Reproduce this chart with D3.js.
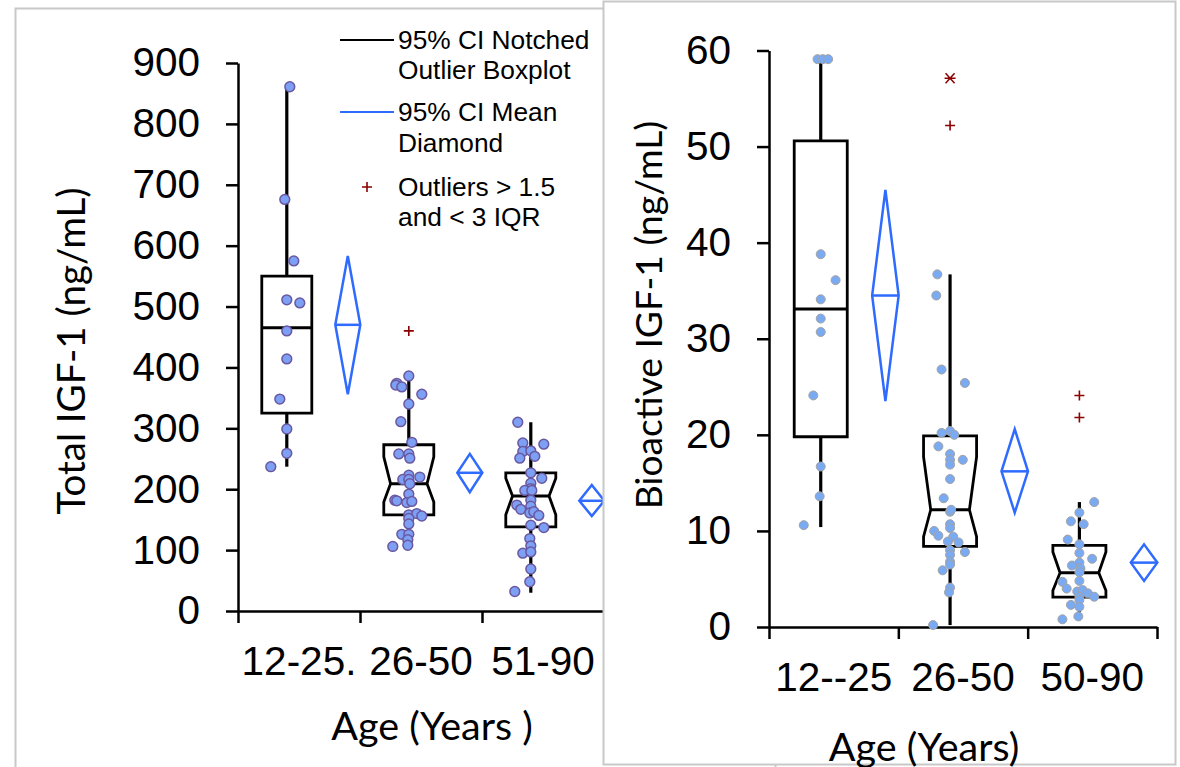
<!DOCTYPE html>
<html>
<head>
<meta charset="utf-8">
<script src="https://cdn.jsdelivr.net/npm/d3@7"></script>
<style>
  html, body { margin: 0; padding: 0; background: #fff; }
  svg { display: block; }
</style>
</head>
<body>
<svg id="chart" width="1180" height="767"></svg>
<script>
// ---------------- DATA ----------------
// Left panel: Total IGF-1 (ng/mL)
const totalCategories = ["12-25.", "26-50", "51-90"];
const totalTicks = [0, 100, 200, 300, 400, 500, 600, 700, 800, 900];
const totalQ1 = [325, 158, 138];
const totalMedian = [465, 209, 189];
const totalQ3 = [550, 273, 227];
const totalWhiskerLo = [237, 106, 30];
const totalWhiskerHi = [861, 386, 310];
const totalNotchLo = [null, 179, 158];
const totalNotchHi = [null, 253, 218];
const totalMean = [470, 227, 181];
const totalMeanLo = [356, 195, 156];
const totalMeanHi = [583, 258, 207];
const totalOutliers = [[], [460], []];
const totalExtreme = [[], [], []];
const totalPoints = [
  [861, 676, 575, 511, 506, 460, 414, 348, 299, 259, 237],
  [386, 374, 371, 368, 356, 340, 311, 277, 258, 258, 251, 223, 220, 216, 216, 209, 192, 182, 181, 178, 180, 158, 160, 156, 152, 143, 126, 126, 117, 108, 106],
  [310, 276, 274, 262, 263, 254, 251, 227, 218, 210, 201, 198, 198, 182, 174, 167, 172, 161, 163, 157, 141, 137, 119, 107, 95, 97, 69, 48, 32]
];
// horizontal jitter of each point (in 1/50 of box width)
const totalJitter = [
  [3, -2, 7, 0, 13, 0, 0, -7, 0, 0, -16],
  [0, -12, -13, -7, 13, 0, -8, 3, -10, 0, 1, 0, 11, -6, 0, 1, 0, -14, -12, -2, 3, 0, 8, 13, 0, 0, -7, 0, -1, -1, -16],
  [-13, -8, 13, -8, 0, 4, -11, 0, 11, 0, 0, -6, 1, 0, -14, -10, 0, -1, 3, 8, 0, 13, -1, 0, -8, 0, 0, -1, -16]
];

// Right panel: Bioactive IGF-1 (ng/mL)
const bioCategories = ["12--25", "26-50", "50-90"];
const bioTicks = [0, 10, 20, 30, 40, 50, 60];
const bioQ1 = [19.8, 8.4, 3.1];
const bioMedian = [33.1, 12.2, 5.65];
const bioQ3 = [50.6, 19.9, 8.5];
const bioWhiskerLo = [10.4, 0.2, 0.8];
const bioWhiskerHi = [59.1, 36.7, 13.0];
const bioNotchLo = [null, 9.4, 3.8];
const bioNotchHi = [null, 17.7, 7.8];
const bioMean = [34.5, 16.2, 6.7];
const bioMeanLo = [23.5, 11.9, 4.8];
const bioMeanHi = [45.5, 20.6, 8.6];
const bioOutliers = [[], [52.2], [24.1, 21.8]];
const bioExtreme = [[], [57.1], []];
const bioPoints = [
  [59.1, 59.1, 59.1, 38.8, 36.1, 34.1, 32.1, 30.7, 24.1, 16.7, 13.6, 10.6],
  [36.7, 34.5, 26.8, 25.4, 20.2, 20.4, 20.0, 18.8, 18.0, 17.4, 16.9, 17.4, 15.4, 13.4, 12.0, 12.2, 10.7, 10.3, 10.0, 9.5, 9.4, 8.9, 8.8, 8.0, 7.8, 7.5, 6.8, 6.5, 5.9, 4.1, 3.6, 0.2],
  [13.0, 11.9, 11.0, 10.7, 9.1, 8.6, 7.7, 7.1, 6.7, 6.4, 6.1, 5.7, 4.7, 4.8, 4.0, 3.7, 3.85, 3.5, 3.15, 3.15, 2.8, 2.3, 2.1, 1.1, 0.8]
];
const bioJitter = [
  [-3, 2, 7, 0, 14, 0, 0, 0, -7, 0, -1, -16],
  [-12, -13, -8, 14, -8, 0, 4, -11, 0, 0, 0, 12, 0, -6, 0, 1, 0, 0, -15, -11, 3, -2, 8, 0, 14, 0, 0, 0, -7, 0, -1, -16],
  [14, 0, -8, 4, -11, 0, 0, 12, 0, -7, 1, 0, -16, 0, -12, -2, 3, 8, 14, 0, 0, -8, 0, -1, -16]
];

// ---------------- DRAW ----------------
const svg = d3.select("#chart");
const BLACK = "#000";
const BLUE = "#2f6bff";
const RED = "#8b0000";
const TICKFONT = "Liberation Sans, Arial, sans-serif";
const TITLEFONT = "Lato, Open Sans, sans-serif";

function boxPanel(g, cfg) {
  const x = d3.scaleBand().domain(cfg.categories).range([cfg.x0, cfg.x1]).paddingInner(0).paddingOuter(0);
  const y = d3.scaleLinear().domain([0, cfg.ymax]).range([cfg.y0, cfg.y1]);
  const bw = x.bandwidth();
  const boxW = bw * 0.41;
  const diaW = bw * 0.205;

  // y axis
  const yAx = g.append("g").attr("transform", `translate(${cfg.x0},0)`)
    .call(d3.axisLeft(y).tickValues(cfg.ticks).tickSize(12).tickSizeOuter(0).tickPadding(26));
  yAx.select(".domain").attr("stroke-width", 2.5);
  yAx.selectAll(".tick line").attr("stroke-width", 2.5);
  yAx.selectAll("text").attr("font-family", TICKFONT).attr("font-size", 40.5).attr("fill", "#000");

  // x axis with boundary ticks
  const xl = d3.scaleLinear().domain([0, cfg.categories.length]).range([cfg.x0, cfg.x1]);
  const xAx = g.append("g").attr("transform", `translate(0,${cfg.y0})`)
    .call(d3.axisBottom(xl).tickValues(d3.range(cfg.categories.length + 1)).tickFormat("").tickSize(12).tickSizeOuter(0));
  xAx.select(".domain").attr("stroke-width", 2.5);
  xAx.selectAll(".tick line").attr("stroke-width", 2.5);
  const xLab = g.append("g").attr("transform", `translate(0,${cfg.y0 + cfg.xLabOff})`)
    .call(d3.axisBottom(x).tickSize(0).tickPadding(0));
  xLab.select(".domain").remove();
  xLab.selectAll("text").attr("font-family", TICKFONT).attr("font-size", 40.5).attr("fill", "#000").attr("dy", "0.35em");

  const marks = g.append("g");
  cfg.categories.forEach((c, i) => {
    const cx = x(c) + bw * 0.4;
    const dx = x(c) + bw * 0.9;
    const L = cx - boxW / 2, R = cx + boxW / 2;
    const inset = boxW * 0.135;
    // whiskers
    marks.append("line").attr("x1", cx).attr("x2", cx)
      .attr("y1", y(cfg.q3[i])).attr("y2", y(cfg.whHi[i]))
      .attr("stroke", BLACK).attr("stroke-width", 3.2);
    marks.append("line").attr("x1", cx).attr("x2", cx)
      .attr("y1", y(cfg.q1[i])).attr("y2", y(cfg.whLo[i]))
      .attr("stroke", BLACK).attr("stroke-width", 3.2);
    // box
    let pts;
    let medL = L, medR = R;
    if (cfg.nLo[i] == null) {
      pts = [[L, y(cfg.q3[i])], [R, y(cfg.q3[i])], [R, y(cfg.q1[i])], [L, y(cfg.q1[i])]];
    } else {
      medL = L + inset; medR = R - inset;
      pts = [[L, y(cfg.q3[i])], [R, y(cfg.q3[i])], [R, y(cfg.nHi[i])], [medR, y(cfg.med[i])],
             [R, y(cfg.nLo[i])], [R, y(cfg.q1[i])], [L, y(cfg.q1[i])], [L, y(cfg.nLo[i])],
             [medL, y(cfg.med[i])], [L, y(cfg.nHi[i])]];
    }
    marks.append("path").attr("d", d3.line()(pts) + "Z")
      .attr("fill", "#fff").attr("stroke", BLACK).attr("stroke-width", 2.8).attr("stroke-linejoin", "miter");
    marks.append("line").attr("x1", medL).attr("x2", medR)
      .attr("y1", y(cfg.med[i])).attr("y2", y(cfg.med[i]))
      .attr("stroke", BLACK).attr("stroke-width", 3);
    // diamond
    const dpts = [[dx, y(cfg.mHi[i])], [dx + diaW / 2, y(cfg.mean[i])], [dx, y(cfg.mLo[i])], [dx - diaW / 2, y(cfg.mean[i])]];
    marks.append("path").attr("d", d3.line()(dpts) + "Z")
      .attr("fill", "none").attr("stroke", BLUE).attr("stroke-width", 2.5).attr("stroke-linejoin", "miter");
    marks.append("line").attr("x1", dx - diaW / 2).attr("x2", dx + diaW / 2)
      .attr("y1", y(cfg.mean[i])).attr("y2", y(cfg.mean[i]))
      .attr("stroke", BLUE).attr("stroke-width", 2.5);
    // outliers
    cfg.outl[i].forEach(v => {
      marks.append("path").attr("d", `M${cx - 5},${y(v)}H${cx + 5}M${cx},${y(v) - 5}V${y(v) + 5}`)
        .attr("stroke", RED).attr("stroke-width", 1.6).attr("fill", "none");
    });
    cfg.extr[i].forEach(v => {
      const yy = y(v);
      marks.append("path").attr("d", `M${cx - 4.5},${yy - 5}L${cx + 4.5},${yy + 5}M${cx + 4.5},${yy - 5}L${cx - 4.5},${yy + 5}M${cx - 5.5},${yy}H${cx + 5.5}`)
        .attr("stroke", RED).attr("stroke-width", 1.5).attr("fill", "none");
    });
    // points
    marks.append("g").selectAll("circle").data(cfg.points[i]).join("circle")
      .attr("cx", (d, j) => cx + cfg.jitter[i][j] * boxW / 50)
      .attr("cy", d => y(d))
      .attr("r", cfg.pr)
      .attr("fill", cfg.pFill).attr("stroke", cfg.pStroke).attr("stroke-width", cfg.pSW);
  });
  return { x, y };
}

// Left panel frame
svg.append("rect").attr("x", 15.5).attr("y", 8.5).attr("width", 760).attr("height", 820)
  .attr("fill", "#fff").attr("stroke", "#c8c8c8").attr("stroke-width", 2);

const left = svg.append("g");
boxPanel(left, {
  categories: totalCategories, ticks: totalTicks, ymax: 900,
  x0: 238, x1: 604, y0: 611, y1: 63, xLabOff: 50,
  q1: totalQ1, med: totalMedian, q3: totalQ3, whLo: totalWhiskerLo, whHi: totalWhiskerHi,
  nLo: totalNotchLo, nHi: totalNotchHi, mean: totalMean, mLo: totalMeanLo, mHi: totalMeanHi,
  outl: totalOutliers, extr: totalExtreme, points: totalPoints, jitter: totalJitter,
  pr: 4.9, pFill: "#7d9ff4", pStroke: "#6a58a0", pSW: 1.5
});
left.append("text").attr("transform", "translate(70,351) rotate(-90)")
  .attr("text-anchor", "middle").attr("dominant-baseline", "central")
  .attr("font-family", TITLEFONT).attr("font-size", 38.5).attr("fill", "#000")
  .text("Total IGF-1 (ng/mL)");
left.append("text").attr("x", 432).attr("y", 724)
  .attr("text-anchor", "middle").attr("dominant-baseline", "central")
  .attr("font-family", TITLEFONT).attr("font-size", 39.5).attr("fill", "#000")
  .text("Age (Years )");

// Legend
const leg = left.append("g").attr("font-family", TICKFONT).attr("font-size", 26.3).attr("fill", "#000");
leg.append("line").attr("x1", 340).attr("x2", 394).attr("y1", 40).attr("y2", 40).attr("stroke", BLACK).attr("stroke-width", 2.2);
leg.append("text").attr("x", 398).attr("y", 40).attr("dominant-baseline", "central").text("95% CI Notched");
leg.append("text").attr("x", 398).attr("y", 70).attr("dominant-baseline", "central").text("Outlier Boxplot");
leg.append("line").attr("x1", 340).attr("x2", 394).attr("y1", 112).attr("y2", 112).attr("stroke", BLUE).attr("stroke-width", 2.2);
leg.append("text").attr("x", 398).attr("y", 112).attr("dominant-baseline", "central").text("95% CI Mean");
leg.append("text").attr("x", 398).attr("y", 143).attr("dominant-baseline", "central").text("Diamond");
leg.append("path").attr("d", "M362,187H372M367,182V192").attr("stroke", RED).attr("stroke-width", 1.6);
leg.append("text").attr("x", 398).attr("y", 187).attr("dominant-baseline", "central").text("Outliers > 1.5");
leg.append("text").attr("x", 398).attr("y", 217).attr("dominant-baseline", "central").text("and < 3 IQR");

// Right panel frame (drawn over left panel)
svg.append("rect").attr("x", 603.5).attr("y", 1.5).attr("width", 572).attr("height", 763)
  .attr("fill", "#fff").attr("stroke", "#c8c8c8").attr("stroke-width", 2);

const right = svg.append("g");
boxPanel(right, {
  categories: bioCategories, ticks: bioTicks, ymax: 60,
  x0: 769, x1: 1157, y0: 627, y1: 50.5, xLabOff: 50,
  q1: bioQ1, med: bioMedian, q3: bioQ3, whLo: bioWhiskerLo, whHi: bioWhiskerHi,
  nLo: bioNotchLo, nHi: bioNotchHi, mean: bioMean, mLo: bioMeanLo, mHi: bioMeanHi,
  outl: bioOutliers, extr: bioExtreme, points: bioPoints, jitter: bioJitter,
  pr: 4.5, pFill: "#7aaaf2", pStroke: "#a3a3a3", pSW: 1
});
right.append("text").attr("transform", "translate(647,315) rotate(-90)")
  .attr("text-anchor", "middle").attr("dominant-baseline", "central")
  .attr("font-family", TITLEFONT).attr("font-size", 37.2).attr("fill", "#000")
  .text("Bioactive IGF-1 (ng/mL)");
right.append("text").attr("x", 924).attr("y", 745)
  .attr("text-anchor", "middle").attr("dominant-baseline", "central")
  .attr("font-family", TITLEFONT).attr("font-size", 39.5).attr("fill", "#000")
  .text("Age (Years)");
</script>
</body>
</html>
